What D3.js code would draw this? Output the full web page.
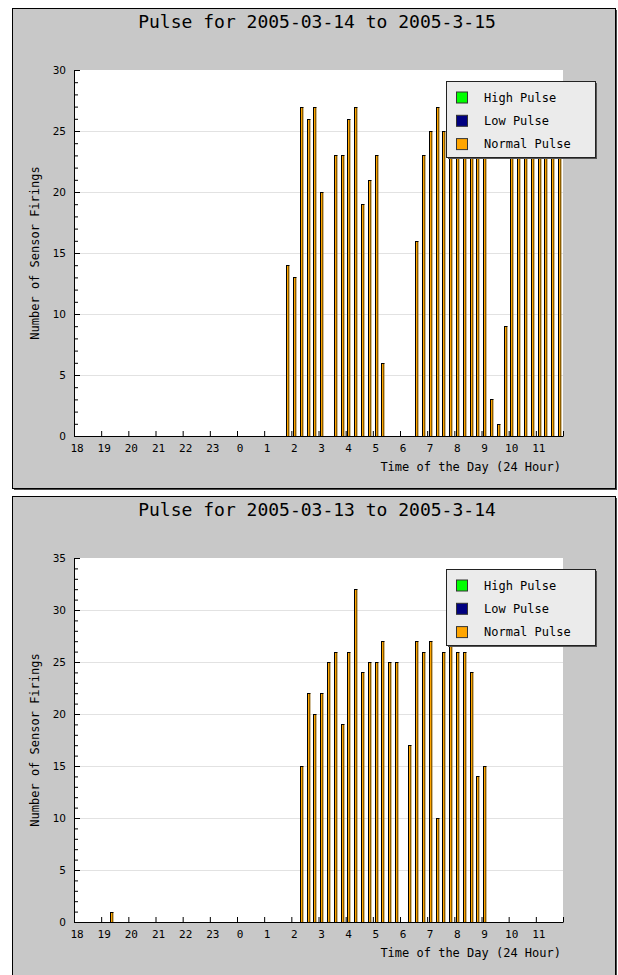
<!DOCTYPE html>
<html>
<head>
<meta charset="utf-8">
<script src="https://cdn.jsdelivr.net/npm/d3@7"></script>
<style>
body { margin: 0; background: #fff; }
</style>
</head>
<body>
<svg id="chart" width="618" height="975"></svg>
<script>
/* global d3 */

/////////////////////////////////////////////////////////////////////////
// data : sensor firings per 15 minute bin, 18:00 -> 12:00 next day

var hourLabels = ['18','19','20','21','22','23','0','1','2','3','4','5','6','7','8','9','10','11']
var seriesNames = ['High Pulse', 'Low Pulse', 'Normal Pulse']
var seriesColors = ['#00ff00', '#000080', '#ffa500']

// night of 2005-03-14
var titleA = 'Pulse for 2005-03-14 to 2005-3-15'
var yMaxA = 30
var timesA = ['01:45','02:00','02:15','02:30','02:45','03:00','03:30','03:45','04:00','04:15',
	'04:30','04:45','05:00','05:15','06:30','06:45','07:00','07:15','07:30','07:45',
	'08:00','08:15','08:30','08:45','09:00','09:15','09:30','09:45','10:00','10:15',
	'10:30','10:45','11:00','11:15','11:30','11:45']
var normalA = [14,13,27,26,27,20,23,23,26,27,
	19,21,23,6,16,23,25,27,25,26,
	27,26,25,27,26,3,1,9,24,27,
	26,25,27,26,24,25]
var highA = []
var lowA = []

// night of 2005-03-13
var titleB = 'Pulse for 2005-03-13 to 2005-3-14'
var yMaxB = 35
var timesB = ['19:15','02:15','02:30','02:45','03:00','03:15','03:30','03:45','04:00','04:15',
	'04:30','04:45','05:00','05:15','05:30','05:45','06:15','06:30','06:45','07:00',
	'07:15','07:30','07:45','08:00','08:15','08:30','08:45','09:00']
var normalB = [1,15,22,20,22,25,26,19,26,32,
	24,25,25,27,25,25,17,27,26,27,
	10,26,27,26,26,24,14,15]
var highB = []
var lowB = []

/////////////////////////////////////////////////////////////////////////

var svg = d3.select('#chart')
var mono = 'DejaVu Sans Mono, monospace'

function hoursFrom18(s) {
	var p = s.split(':')
	var h = +p[0], m = +p[1]
	return (h >= 18 ? h - 18 : h + 6) + m / 60
}

function drawPanel(top, title, times, normal, high, low, yMax) {
	var panel = {left: 12, width: 603, height: 480}
	var plot = {left: 74, right: 563, top: top + 62, bottom: top + 62 + (yMax == 30 ? 366 : 364)}

	var g = svg.append('g')

	// frame with shadow
	g.append('rect').attr('x', panel.left + 2).attr('y', top + 2)
		.attr('width', panel.width).attr('height', panel.height).attr('fill', '#4a4a4a')
	g.append('rect').attr('x', panel.left + 0.5).attr('y', top + 0.5)
		.attr('width', panel.width).attr('height', panel.height)
		.attr('fill', '#c8c8c8').attr('stroke', '#000')

	g.append('rect').attr('x', plot.left).attr('y', plot.top)
		.attr('width', plot.right - plot.left).attr('height', plot.bottom - plot.top)
		.attr('fill', '#fff')

	g.append('text').attr('x', 317).attr('y', top + 20)
		.attr('text-anchor', 'middle').attr('font-family', mono).attr('font-size', 18)
		.text(title)

	var x = d3.scaleLinear().domain([0, 18]).range([plot.left, plot.right])
	var y = d3.scaleLinear().domain([0, yMax]).range([plot.bottom, plot.top])

	// grid
	g.append('g').attr('transform', 'translate(' + plot.left + ',0)')
		.call(d3.axisLeft(y).tickValues(d3.range(5, yMax, 5)).tickSize(-(plot.right - plot.left)).tickFormat(''))
		.call(a => a.select('.domain').remove())
		.call(a => a.selectAll('line').attr('stroke', '#e2e2e2'))

	// bars
	var bin = x(0.25) - x(0)
	var rows = times.map((t, i) => ({t: hoursFrom18(t), v: normal[i]}))
	var bars = g.append('g').selectAll('g').data(rows).enter().append('g')
		.attr('transform', d => 'translate(' + Math.round(x(d.t) + bin / 4) + ',' + Math.round(y(d.v)) + ')')
	bars.append('rect').attr('width', 3.4).attr('height', d => plot.bottom - Math.round(y(d.v)))
		.attr('fill', '#8c5e00')
	bars.append('rect').attr('width', 1).attr('height', d => plot.bottom - Math.round(y(d.v)))
		.attr('fill', '#000')
	bars.append('rect').attr('x', 1).attr('y', 1).attr('width', 1)
		.attr('height', d => Math.max(0, plot.bottom - Math.round(y(d.v)) - 1))
		.attr('fill', seriesColors[2])
	bars.append('rect').attr('width', 3.4).attr('height', 1).attr('fill', '#000')

	// x axis
	g.append('g').attr('transform', 'translate(0,' + plot.bottom + ')')
		.call(d3.axisBottom(x).tickValues(d3.range(0, 19))
			.tickFormat(i => i < 18 ? hourLabels[i] : '')
			.tickSizeInner(-5).tickSizeOuter(0).tickPadding(8))
		.call(a => a.selectAll('text').attr('x', 2.5).attr('font-family', mono).attr('font-size', 11).attr('fill', '#000'))
		.call(a => a.selectAll('line,path').attr('stroke', '#000'))

	// y axis, minor then major ticks
	g.append('g').attr('transform', 'translate(' + plot.left + ',0)')
		.call(d3.axisLeft(y).tickValues(d3.range(0, yMax + 1, 1)).tickSizeInner(-4).tickSizeOuter(0).tickFormat(''))
		.call(a => a.selectAll('line,path').attr('stroke', '#000'))
	g.append('g').attr('transform', 'translate(' + plot.left + ',0)')
		.call(d3.axisLeft(y).tickValues(d3.range(0, yMax + 1, 5)).tickSizeInner(-6).tickSizeOuter(0).tickPadding(8))
		.call(a => a.select('.domain').remove())
		.call(a => a.selectAll('line').attr('stroke', '#000'))
		.call(a => a.selectAll('text').attr('font-family', 'DejaVu Sans, sans-serif').attr('font-size', 10.5).attr('fill', '#000'))

	// axis titles
	g.append('text').attr('x', 561).attr('y', plot.bottom + 35)
		.attr('text-anchor', 'end').attr('font-family', mono).attr('font-size', 12)
		.text('Time of the Day (24 Hour)')
	g.append('text').attr('transform', 'translate(35,' + (plot.top + plot.bottom) / 2 + ') rotate(-90)')
		.attr('text-anchor', 'middle').attr('dominant-baseline', 'central')
		.attr('font-family', mono).attr('font-size', 12)
		.text('Number of Sensor Firings')

	// legend
	var lg = {x: 446, y: plot.top + 11, w: 149, h: 76}
	g.append('rect').attr('x', lg.x + 2).attr('y', lg.y + 2).attr('width', lg.w).attr('height', lg.h).attr('fill', '#555')
	g.append('rect').attr('x', lg.x + 0.5).attr('y', lg.y + 0.5).attr('width', lg.w).attr('height', lg.h)
		.attr('fill', '#ebebeb').attr('stroke', '#222')
	var item = g.append('g').selectAll('g').data(seriesNames).enter().append('g')
		.attr('transform', (d, i) => 'translate(' + lg.x + ',' + (lg.y + 16.5 + i * 23.3) + ')')
	item.append('rect').attr('x', 10.5).attr('y', -5.5).attr('width', 11).attr('height', 11)
		.attr('fill', (d, i) => seriesColors[i]).attr('stroke', '#333')
	item.append('text').attr('x', 38).attr('dominant-baseline', 'central')
		.attr('font-family', mono).attr('font-size', 12).text(d => d)
}

drawPanel(8, titleA, timesA, normalA, highA, lowA, yMaxA)
drawPanel(496, titleB, timesB, normalB, highB, lowB, yMaxB)
</script>
</body>
</html>
